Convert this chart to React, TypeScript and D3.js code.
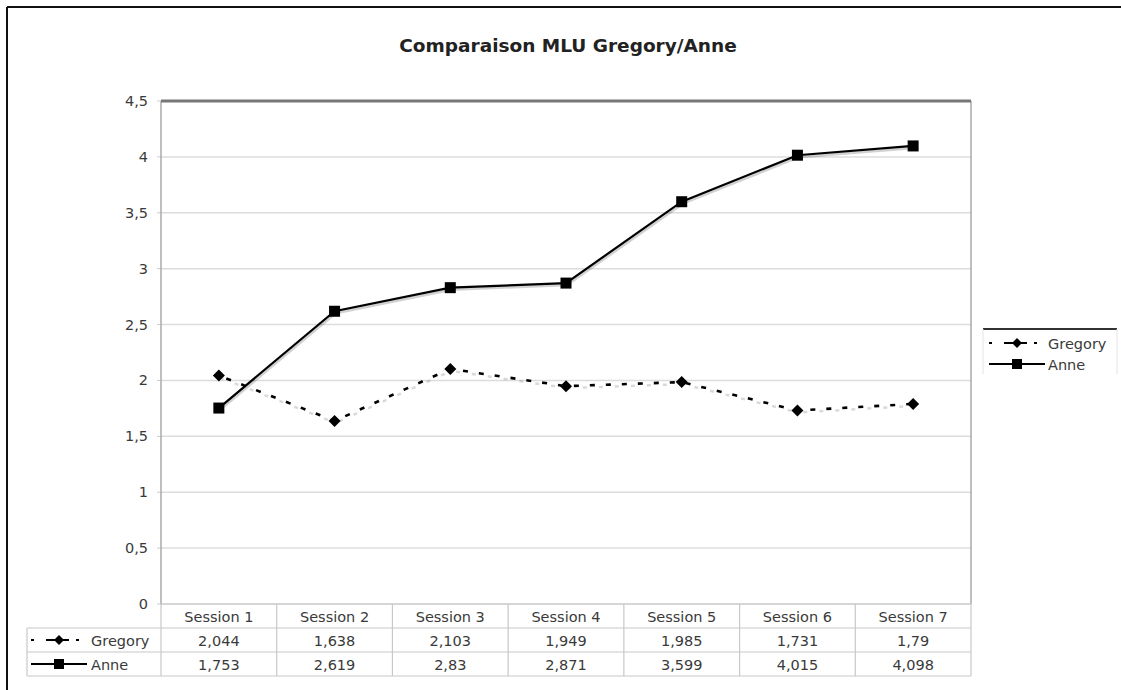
import React from "react";
import * as d3 from "d3";

const sessions = ["Session 1", "Session 2", "Session 3", "Session 4", "Session 5", "Session 6", "Session 7"];
const gregory = [2.044, 1.638, 2.103, 1.949, 1.985, 1.731, 1.79];
const anne = [1.753, 2.619, 2.83, 2.871, 3.599, 4.015, 4.098];
const yTicks = [0, 0.5, 1, 1.5, 2, 2.5, 3, 3.5, 4, 4.5];
const title = "Comparaison MLU Gregory/Anne";

const W = 1121,
	H = 690;
const left = 161,
	right = 971,
	top = 101,
	bottom = 604;
const rowH = 24;
const font = "'DejaVu Sans', Verdana, sans-serif";
const fs = 14.5;

const fmt = (v) => String(v).replace(".", ",");

const Diamond = ({ x, y, r = 6 }) => (
	<path d={`M${x},${y - r}L${x + r},${y}L${x},${y + r}L${x - r},${y}Z`} fill="#000" />
);
const Square = ({ x, y, s = 11 }) => <rect x={x - s / 2} y={y - s / 2} width={s} height={s} fill="#000" />;

const GregKey = ({ x, y }) => (
	<g>
		<line x1={x} y1={y} x2={x + 56} y2={y} stroke="#000" strokeWidth={2} strokeDasharray="3,12" strokeDashoffset={0} />
		<line x1={x + 17} y1={y} x2={x + 38} y2={y} stroke="#000" strokeWidth={2} />
		<Diamond x={x + 28} y={y} r={5} />
	</g>
);
const AnneKey = ({ x, y }) => (
	<g>
		<line x1={x} y1={y} x2={x + 56} y2={y} stroke="#000" strokeWidth={2} />
		<Square x={x + 28} y={y} s={10} />
	</g>
);

export default function App() {
	const x = d3.scaleBand().domain(sessions).range([left, right]);
	const y = d3.scaleLinear().domain([0, 4.5]).range([bottom, top]);
	const cx = (i) => x(sessions[i]) + x.bandwidth() / 2;
	const line = d3
		.line()
		.x((d, i) => cx(i))
		.y((d) => y(d));

	const tableRows = [
		{ name: "Gregory", values: gregory, key: GregKey },
		{ name: "Anne", values: anne, key: AnneKey },
	];

	return (
		<svg width={W} height={H} style={{ position: "absolute", left: 0, top: 0, background: "#fff" }} fontFamily={font}>
			<rect x={0} y={0} width={W} height={H} fill="#fff" />
			{/* outer frame */}
			<line x1={7} y1={7} x2={W} y2={7} stroke="#111" strokeWidth={2} />
			<line x1={7} y1={7} x2={7} y2={H} stroke="#111" strokeWidth={2} />

			<text x={568} y={52} textAnchor="middle" fontSize={18.5} fontWeight="bold" fill="#222">
				{title}
			</text>

			{/* grid */}
			{yTicks.map((t) => (
				<g key={t}>
					<line x1={left} x2={right} y1={y(t)} y2={y(t)} stroke="#dcdcdc" strokeWidth={1.5} />
					<line x1={left - 4} x2={left} y1={y(t)} y2={y(t)} stroke="#ccc" strokeWidth={1} />
					<text x={148} y={y(t) + 5} textAnchor="end" fontSize={fs} fill="#3a3a3a">
						{fmt(t)}
					</text>
				</g>
			))}
			<line x1={left} x2={left} y1={top} y2={bottom} stroke="#aaa" strokeWidth={1.5} />
			<line x1={right} x2={right} y1={top} y2={bottom} stroke="#aaa" strokeWidth={1.5} />
			<line x1={left} x2={right} y1={top} y2={top} stroke="#777" strokeWidth={3} />

			{/* shadows */}
			<path d={line(anne)} fill="none" stroke="#000" strokeOpacity={0.18} strokeWidth={2.5} transform="translate(1,2)" />
			<path
				d={line(gregory)}
				fill="none"
				stroke="#000"
				strokeOpacity={0.15}
				strokeWidth={2.5}
				strokeDasharray="4,12"
				transform="translate(1,2)"
			/>

			{/* series */}
			<path d={line(gregory)} fill="none" stroke="#000" strokeWidth={2.6} strokeDasharray="5,11" strokeDashoffset={-8} />
			<path d={line(anne)} fill="none" stroke="#000" strokeWidth={2.2} />
			{gregory.map((v, i) => (
				<Diamond key={"g" + i} x={cx(i)} y={y(v)} />
			))}
			{anne.map((v, i) => (
				<Square key={"a" + i} x={cx(i)} y={y(v)} />
			))}

			{/* data table */}
			<g stroke="#c8c8c8" strokeWidth={1.2}>
				<line x1={left} x2={right} y1={bottom} y2={bottom} />
				{[1, 2, 3].map((r) => (
					<line key={r} x1={27} x2={right} y1={bottom + r * rowH} y2={bottom + r * rowH} />
				))}
				<line x1={27} x2={27} y1={bottom + rowH} y2={bottom + 3 * rowH} />
				{sessions.map((s) => (
					<line key={s} x1={x(s)} x2={x(s)} y1={bottom} y2={bottom + 3 * rowH} />
				))}
				<line x1={right} x2={right} y1={bottom} y2={bottom + 3 * rowH} />
			</g>
			{sessions.map((s) => (
				<text key={s} x={x(s) + x.bandwidth() / 2} y={bottom + 17.5} textAnchor="middle" fontSize={fs} fill="#3a3a3a">
					{s}
				</text>
			))}
			{tableRows.map((row, r) => {
				const ry = bottom + (r + 1) * rowH;
				const Key = row.key;
				return (
					<g key={row.name}>
						<Key x={31} y={ry + 12} />
						<text x={91} y={ry + 17.5} fontSize={fs} fill="#3a3a3a">
							{row.name}
						</text>
						{row.values.map((v, i) => (
							<text key={i} x={cx(i)} y={ry + 17.5} textAnchor="middle" fontSize={fs} fill="#3a3a3a">
								{fmt(v)}
							</text>
						))}
					</g>
				);
			})}

			{/* legend */}
			<line x1={983} x2={1117} y1={329} y2={329} stroke="#333" strokeWidth={2} />
			<line x1={983} x2={983} y1={329} y2={374} stroke="#e4e4e4" strokeWidth={1} />
			<line x1={1117} x2={1117} y1={329} y2={374} stroke="#e4e4e4" strokeWidth={1} />
			<GregKey x={989} y={343} />
			<text x={1048} y={348.5} fontSize={fs} fill="#3a3a3a">
				Gregory
			</text>
			<AnneKey x={989} y={364} />
			<text x={1048} y={369.5} fontSize={fs} fill="#3a3a3a">
				Anne
			</text>
		</svg>
	);
}
